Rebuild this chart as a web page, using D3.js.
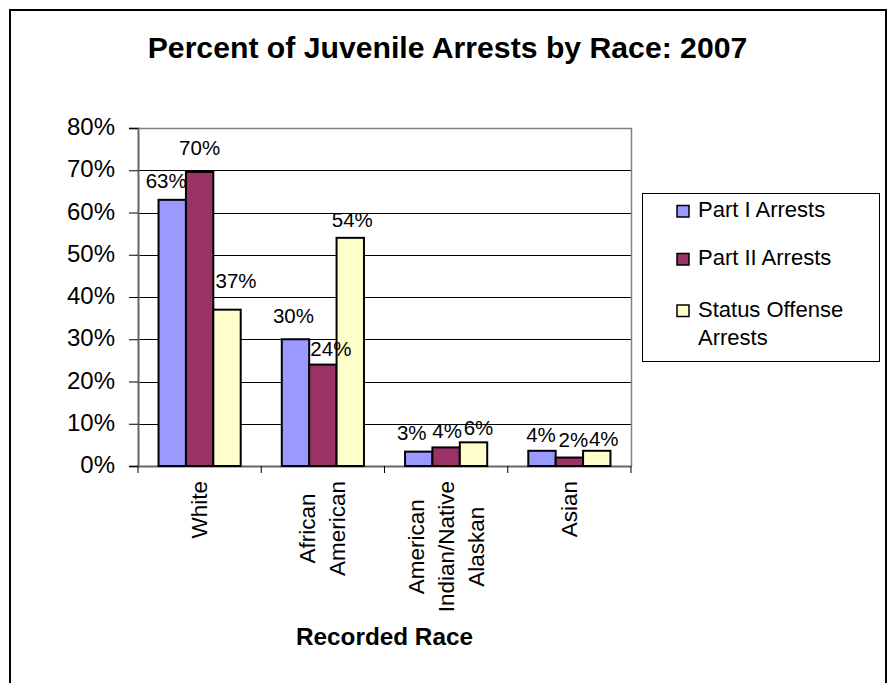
<!DOCTYPE html>
<html>
<head>
<meta charset="utf-8">
<script src="https://cdn.jsdelivr.net/npm/d3@7"></script>
<style>
  html, body { margin: 0; padding: 0; background: #fff; }
  svg { display: block; font-family: "Liberation Sans", Arial, sans-serif; }
</style>
</head>
<body>
<svg id="chart" width="893" height="683"></svg>
<script>
// Categories (recorded race) and the wrapped lines of each axis label
const categories = ["White", "African American", "American Indian/Native Alaskan", "Asian"];
const categoryLines = [["White"], ["African", "American"], ["American", "Indian/Native", "Alaskan"], ["Asian"]];

// Series names and share of juvenile arrests per category
const seriesNames = ["Part I Arrests", "Part II Arrests", "Status Offense Arrests"];
const partI = [0.63, 0.30, 0.034, 0.036];
const partII = [0.696, 0.24, 0.044, 0.02];
const statusOffense = [0.37, 0.54, 0.056, 0.036];

// Value-axis ticks
const yTicks = [0, 0.1, 0.2, 0.3, 0.4, 0.5, 0.6, 0.7, 0.8];

// Styling
const colors = ["#9999FF", "#993366", "#FFFFCC"];
// small nudges of individual data labels [dx, dy], per series then category
const labelNudge = [
  [[-6, 0], [-2, -4], [-7, 0], [-1, 3]],
  [[0, -5], [8, 3], [1, 3], [4, 1]],
  [[9, -10], [2, 1], [5, 5], [7, 7]]
];

const values = [partI, partII, statusOffense];
const fmt = d3.format(".0%");

const svg = d3.select("#chart");
const plot = { left: 138, right: 631, top: 128, bottom: 466 };

// outer frame
svg.append("rect")
  .attr("x", 10).attr("y", 10).attr("width", 876).attr("height", 720)
  .attr("fill", "#fff").attr("stroke", "#000").attr("stroke-width", 2);

// title
svg.append("text")
  .attr("x", 447.5).attr("y", 58)
  .attr("text-anchor", "middle")
  .attr("font-size", 30.2).attr("font-weight", "bold")
  .text("Percent of Juvenile Arrests by Race: 2007");

const x = d3.scaleBand().domain(categories).range([plot.left, plot.right]).padding(0);
const xs = d3.scaleBand().domain(seriesNames).range([0, x.bandwidth()])
  .paddingInner(0).paddingOuter(0.75);
const y = d3.scaleLinear().domain([0, 0.8]).range([plot.bottom, plot.top]);

// gridlines
svg.append("g").selectAll("line")
  .data(yTicks.filter(t => t > 0 && t < 0.8))
  .join("line")
  .attr("x1", plot.left).attr("x2", plot.right)
  .attr("y1", d => Math.round(y(d)) + 0.5).attr("y2", d => Math.round(y(d)) + 0.5)
  .attr("stroke", "#000").attr("stroke-width", 1);

// plot-area border (top and right)
svg.append("path")
  .attr("d", `M${plot.left},${plot.top + 0.5}H${plot.right + 0.5}V${plot.bottom}`)
  .attr("fill", "none").attr("stroke", "#808080").attr("stroke-width", 1.5);

// y axis
const yAxis = d3.axisLeft(y).tickValues(yTicks).tickFormat(fmt).tickSize(9).tickPadding(14);
const gy = svg.append("g").attr("transform", `translate(${plot.left},0)`).call(yAxis);
gy.select(".domain").attr("stroke", "#666").attr("stroke-width", 2);
gy.selectAll(".tick line").attr("stroke", "#000");
gy.selectAll(".tick text")
  .attr("font-size", 24).attr("font-family", "Liberation Sans, Arial, sans-serif")
  .attr("fill", "#000").attr("dy", "0.28em");

// x axis (ticks between categories)
const xAxis = d3.axisBottom(x).tickSize(0).tickFormat("");
const gx = svg.append("g").attr("transform", `translate(0,${plot.bottom})`).call(xAxis);
gx.select(".domain").attr("stroke", "#666").attr("stroke-width", 2);
gx.selectAll(".tick").remove();
gx.selectAll("line.sep")
  .data([plot.left, ...categories.map(c => x(c) + x.bandwidth())])
  .join("line").attr("class", "sep")
  .attr("x1", d => d).attr("x2", d => d)
  .attr("y1", 0).attr("y2", 7)
  .attr("stroke", "#000");

// bars
const barG = svg.append("g");
seriesNames.forEach((s, si) => {
  barG.selectAll(null)
    .data(values[si])
    .join("rect")
    .attr("x", (d, i) => x(categories[i]) + xs(s))
    .attr("y", d => y(d))
    .attr("width", xs.bandwidth())
    .attr("height", d => y(0) - y(d))
    .attr("fill", colors[si])
    .attr("stroke", "#000").attr("stroke-width", 2);
});

// data labels
const labelG = svg.append("g");
seriesNames.forEach((s, si) => {
  labelG.selectAll(null)
    .data(values[si])
    .join("text")
    .attr("x", (d, i) => x(categories[i]) + xs(s) + xs.bandwidth() / 2 + labelNudge[si][i][0])
    .attr("y", (d, i) => y(d) - 12 + labelNudge[si][i][1])
    .attr("text-anchor", "middle")
    .attr("font-size", 20.5)
    .text(d => fmt(d));
});

// rotated category labels, lines centred on each other
const catG = svg.append("g");
categories.forEach((c, i) => {
  const lines = categoryLines[i];
  const g = catG.append("g");
  const texts = lines.map((ln, li) => g.append("text")
    .attr("font-size", 22.5)
    .attr("text-anchor", "middle")
    .attr("dominant-baseline", "central")
    .attr("x", 0)
    .attr("y", (li - (lines.length - 1) / 2) * 30)
    .text(ln));
  const maxLen = d3.max(texts, t => t.node().getComputedTextLength());
  const cx = x(c) + x.bandwidth() / 2;
  const cy = 481 + maxLen / 2;
  g.attr("transform", `translate(${cx},${cy}) rotate(-90)`);
});

// axis title
svg.append("text")
  .attr("x", (plot.left + plot.right) / 2).attr("y", 645)
  .attr("text-anchor", "middle")
  .attr("font-size", 24.3).attr("font-weight", "bold")
  .text("Recorded Race");

// legend
const legend = svg.append("g");
legend.append("rect")
  .attr("x", 642.5).attr("y", 193.5).attr("width", 237).attr("height", 168)
  .attr("fill", "#fff").attr("stroke", "#000").attr("stroke-width", 1);
const legendLines = [["Part I Arrests"], ["Part II Arrests"], ["Status Offense", "Arrests"]];
const legendBaselines = [217, 265, 316.5];
seriesNames.forEach((s, si) => {
  const base = legendBaselines[si];
  legend.append("rect")
    .attr("x", 677).attr("y", base - 11.5).attr("width", 12).attr("height", 11.5)
    .attr("fill", colors[si]).attr("stroke", "#000").attr("stroke-width", 1.5);
  legendLines[si].forEach((ln, li) => {
    legend.append("text")
      .attr("x", 698).attr("y", base + li * 28.5)
      .attr("font-size", 22)
      .text(ln);
  });
});
</script>
</body>
</html>
